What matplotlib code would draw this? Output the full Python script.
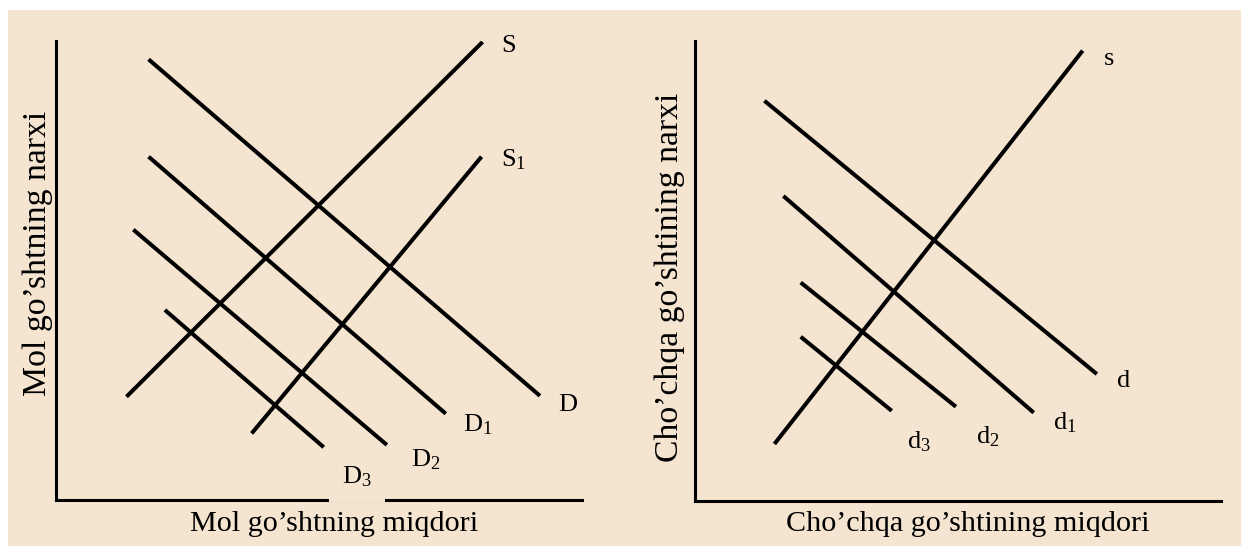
"""
Supply / demand shift diagrams: beef (left) and pork (right) markets.
"""
import matplotlib
matplotlib.use("Agg")
import matplotlib.pyplot as plt
from matplotlib.patches import Rectangle

plt.rcParams["font.family"] = ["Liberation Serif", "DejaVu Serif"]
plt.rcParams["mathtext.default"] = "regular"

BG = "#f4e4d0"

# ── data (axis units 0..10) ─────────────────────────────────────────────────
# left panel: beef
beef_names = ["S", "S1", "D", "D1", "D2", "D3"]
beef_x = [[1.34, 8.11], [3.72, 8.09], [1.76, 9.20], [1.76, 7.41], [1.47, 6.29], [2.07, 5.09]]
beef_y = [[2.25, 9.98], [1.45, 7.48], [9.60, 2.27], [7.48, 1.88], [5.89, 1.20], [4.14, 1.15]]
beef_labels = ["S", "S$_1$", "D", "D$_1$", "D$_2$", "D$_3$"]
beef_label_x = [8.61, 8.70, 9.72, 8.01, 7.02, 5.72]
beef_label_y = [9.89, 7.41, 2.06, 1.64, 0.88, 0.51]

# right panel: pork
pork_names = ["s", "d", "d1", "d2", "d3"]
pork_x = [[1.51, 7.37], [1.32, 7.64], [1.68, 6.44], [2.01, 4.96], [2.01, 3.74]]
pork_y = [[1.24, 9.79], [8.70, 2.76], [6.63, 1.92], [4.75, 2.05], [3.57, 1.96]]
pork_labels = ["s", "d", "d$_1$", "d$_2$", "d$_3$"]
pork_label_x = [7.87, 8.14, 7.04, 5.57, 4.26]
pork_label_y = [9.61, 2.61, 1.70, 1.39, 1.28]


def market_panel(ax, xs, ys, labels, lx, ly, xlabel, ylabel, xlab_pos, ylab_pos):
    for x, y in zip(xs, ys):
        ax.plot(x, y, color="black", linewidth=2.9, solid_capstyle="butt", zorder=4)
    texts = []
    for t, x, y in zip(labels, lx, ly):
        texts.append(ax.text(x, y, t, fontsize=19, ha="center", va="center", zorder=3))
    ax.set_xlim(0, 10)
    ax.set_ylim(0, 10)
    ax.set_xticks([])
    ax.set_yticks([])
    ax.patch.set_visible(False)
    for spine in ("top", "right"):
        ax.spines[spine].set_visible(False)
    for spine in ("left", "bottom"):
        ax.spines[spine].set_linewidth(2.2)
    ax.set_xlabel(xlabel, fontsize=21.7, va="center")
    ax.set_ylabel(ylabel, fontsize=24.3, va="center")
    ax.xaxis.set_label_coords(*xlab_pos)
    ax.yaxis.set_label_coords(*ylab_pos)
    return texts


fig = plt.figure(figsize=(12.41, 5.46), dpi=100, facecolor="white")
fig.patches.append(Rectangle((8 / 1241, 0), 1, 536 / 546, transform=fig.transFigure,
                             facecolor=BG, edgecolor="none", zorder=-10))

W, H = 1241, 546
ax1 = fig.add_axes([56 / W, (H - 500) / H, 526 / W, 459 / H])
ax2 = fig.add_axes([695 / W, (H - 501) / H, 526 / W, 460 / H])

beef_texts = market_panel(ax1, beef_x, beef_y, beef_labels, beef_label_x, beef_label_y,
                          "Mol go’shtning miqdori", "Mol go’shtning narxi",
                          (0.5285, -0.052), (-0.035, 0.538))
market_panel(ax2, pork_x, pork_y, pork_labels, pork_label_x, pork_label_y,
             "Cho’chqa go’shtining miqdori", "Cho’chqa go’shtining narxi",
             (0.519, -0.05), (-0.0485, 0.486))

# the D3 label sits on a background box that breaks the quantity axis
beef_texts[-1].set_bbox(dict(boxstyle="square,pad=0.5", facecolor=BG, edgecolor="none"))

fig.savefig("out.png", dpi=100, facecolor=fig.get_facecolor())
